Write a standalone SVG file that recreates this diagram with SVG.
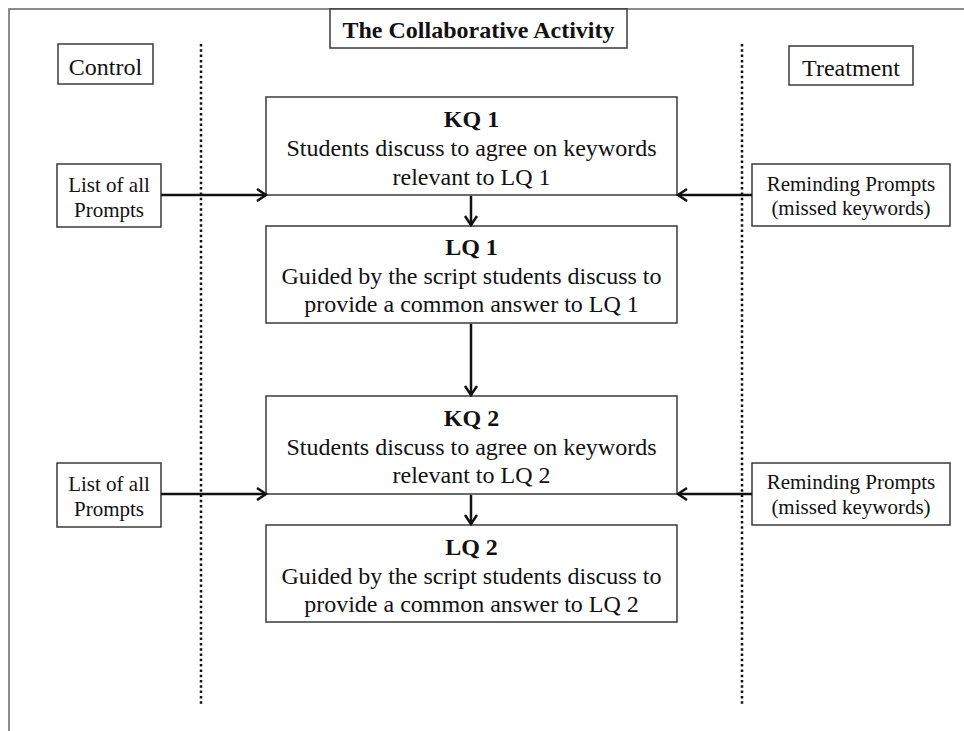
<svg xmlns="http://www.w3.org/2000/svg" width="964" height="731" viewBox="0 0 964 731">
<style>
.box{fill:#fff;stroke:#3a3a3a;stroke-width:1.5}
.t{font-family:"Liberation Serif","Times New Roman",serif;fill:#111;text-anchor:middle}
.big{font-size:24px}
.sm{font-size:21px}
.b{font-weight:bold}
.arr{stroke:#111;stroke-width:2.5;fill:none}
.dot{stroke:#111;stroke-width:2.5;stroke-dasharray:2.5 2.8;fill:none}
.frame{stroke:#666;stroke-width:1.5;fill:none}
</style>
<defs>
<marker id="ah" markerUnits="userSpaceOnUse" markerWidth="14" markerHeight="16" refX="11" refY="7" orient="auto">
<path d="M2,1 L11,7 L2,13" fill="none" stroke="#111" stroke-width="2.5"/>
</marker>
</defs>
<rect width="964" height="731" fill="#fff"/>
<g id="frame">
<path class="frame" d="M964,9 H9 V731"/>
<line class="dot" x1="201" y1="44" x2="201" y2="704"/>
<line class="dot" x1="742" y1="44" x2="742" y2="704"/>
</g>
<g id="title">
<rect class="box" x="330" y="9" width="297" height="39"/>
<text class="t big b" x="478.5" y="38">The Collaborative Activity</text>
</g>
<g id="control">
<rect class="box" x="58" y="44" width="95" height="40"/>
<text class="t big" x="105.5" y="75">Control</text>
</g>
<g id="treatment">
<rect class="box" x="789" y="46" width="124" height="39"/>
<text class="t big" x="851" y="76">Treatment</text>
</g>
<g id="kq1">
<rect class="box" x="266" y="97" width="411" height="98"/>
<text class="t big b" x="471.5" y="127">KQ 1</text>
<text class="t big" x="471.5" y="156">Students discuss to agree on keywords</text>
<text class="t big" x="471.5" y="185">relevant to LQ 1</text>
</g>
<g id="lq1">
<rect class="box" x="266" y="226" width="411" height="97"/>
<text class="t big b" x="471.5" y="255">LQ 1</text>
<text class="t big" x="471.5" y="284">Guided by the script students discuss to</text>
<text class="t big" x="471.5" y="312">provide a common answer to LQ 1</text>
</g>
<g id="kq2">
<rect class="box" x="266" y="396" width="411" height="98"/>
<text class="t big b" x="471.5" y="426">KQ 2</text>
<text class="t big" x="471.5" y="455">Students discuss to agree on keywords</text>
<text class="t big" x="471.5" y="483">relevant to LQ 2</text>
</g>
<g id="lq2">
<rect class="box" x="266" y="525" width="411" height="97"/>
<text class="t big b" x="471.5" y="555">LQ 2</text>
<text class="t big" x="471.5" y="584">Guided by the script students discuss to</text>
<text class="t big" x="471.5" y="612">provide a common answer to LQ 2</text>
</g>
<g id="list1">
<rect class="box" x="57" y="164" width="104" height="63"/>
<text class="t sm" x="109" y="192">List of all</text>
<text class="t sm" x="109" y="217">Prompts</text>
</g>
<g id="remind1">
<rect class="box" x="752" y="164" width="198" height="62"/>
<text class="t sm" x="851" y="191">Reminding Prompts</text>
<text class="t sm" x="851" y="215">(missed keywords)</text>
</g>
<g id="list2">
<rect class="box" x="57" y="463" width="104" height="64"/>
<text class="t sm" x="109" y="491">List of all</text>
<text class="t sm" x="109" y="516">Prompts</text>
</g>
<g id="remind2">
<rect class="box" x="752" y="463" width="198" height="62"/>
<text class="t sm" x="851" y="489">Reminding Prompts</text>
<text class="t sm" x="851" y="514">(missed keywords)</text>
</g>
<g id="connectors">
<line class="arr" x1="161" y1="195" x2="266" y2="195" marker-end="url(#ah)"/>
<line class="arr" x1="752" y1="195" x2="678" y2="195" marker-end="url(#ah)"/>
<line class="arr" x1="161" y1="494" x2="266" y2="494" marker-end="url(#ah)"/>
<line class="arr" x1="752" y1="494" x2="678" y2="494" marker-end="url(#ah)"/>
<line class="arr" x1="471" y1="196" x2="471" y2="225" marker-end="url(#ah)"/>
<line class="arr" x1="471" y1="324" x2="471" y2="395" marker-end="url(#ah)"/>
<line class="arr" x1="471" y1="495" x2="471" y2="524" marker-end="url(#ah)"/>
</g>
</svg>
